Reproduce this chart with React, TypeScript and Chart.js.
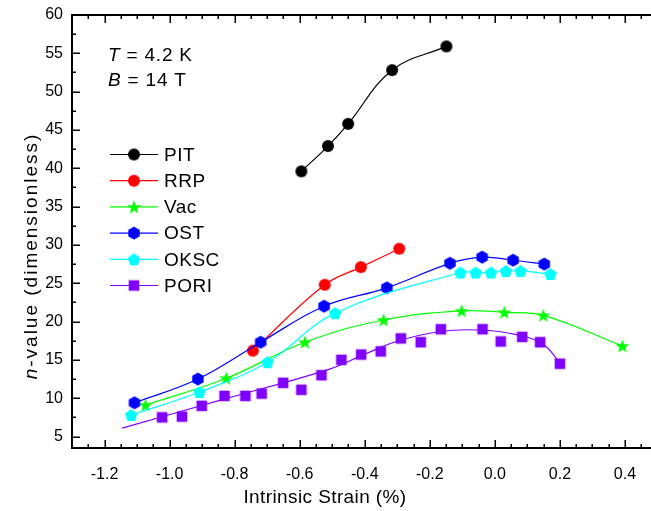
import React, { useEffect, useRef } from 'react';
import { Chart, registerables } from 'chart.js';

Chart.register(...registerables);

// ---- axis ranges and tick labels ----
const xMin = -1.3, xMax = 0.48;
const yMin = 3.5, yMax = 60;
const xTicks = [-1.2, -1.0, -0.8, -0.6, -0.4, -0.2, 0.0, 0.2, 0.4];
const yTicks = [5, 10, 15, 20, 25, 30, 35, 40, 45, 50, 55, 60];

// ---- series (Intrinsic strain %, n-value) ----
const pitX = [-0.595, -0.513, -0.451, -0.316, -0.149];
const pitY = [39.6, 42.9, 45.8, 52.8, 55.9];

const rrpX = [-0.744, -0.523, -0.412, -0.294];
const rrpY = [16.2, 24.8, 27.1, 29.5];

const vacX = [-1.074, -0.826, -0.584, -0.342, -0.102, 0.029, 0.149, 0.392];
const vacY = [9.1, 12.6, 17.3, 20.2, 21.4, 21.2, 20.8, 16.8];

const ostX = [-1.108, -0.913, -0.72, -0.525, -0.332, -0.138, -0.039, 0.056, 0.152];
const ostY = [9.4, 12.5, 17.3, 22.0, 24.4, 27.6, 28.4, 28.0, 27.5];

const okscX = [-1.118, -0.908, -0.699, -0.491, -0.106, -0.059, -0.012, 0.034, 0.079, 0.171];
const okscY = [7.8, 10.8, 14.7, 21.1, 26.4, 26.4, 26.4, 26.6, 26.6, 26.2];

const poriX = [-1.023, -0.962, -0.901, -0.831, -0.767, -0.717, -0.651, -0.595, -0.533, -0.472,
  -0.411, -0.351, -0.289, -0.228, -0.166, -0.038, 0.018, 0.084, 0.139, 0.2];
const poriY = [7.5, 7.6, 9.0, 10.3, 10.3, 10.6, 12.0, 11.1, 13.0, 15.0,
  15.7, 16.1, 17.8, 17.3, 19.0, 19.0, 17.4, 18.0, 17.3, 14.5];

// fitted curve for PORI
const poriFitX = [-1.146, -0.83, -0.508, -0.405, -0.302, -0.169, -0.051, 0.067, 0.149, 0.2];
const poriFitY = [6.1, 9.9, 13.8, 15.65, 17.4, 18.7, 18.9, 18.3, 17.0, 14.6];

const seriesNames = ['PIT', 'RRP', 'Vac', 'OST', 'OKSC', 'PORI'];
const seriesColors = ['#000000', '#ff0000', '#00ff00', '#0000ff', '#00ffff', '#8000ff'];
const seriesShapes = ['circle', 'circle', 'star', 'hexagon', 'pentagon', 'square'];

const FONT = '"Liberation Sans", Arial, Helvetica, sans-serif';

function makeMarker(shape: string, color: string): HTMLCanvasElement {
  const c = document.createElement('canvas');
  c.width = 18;
  c.height = 18;
  const g = c.getContext('2d')!;
  g.fillStyle = color;
  g.translate(9, 9);
  g.beginPath();
  if (shape === 'circle') {
    g.arc(0, 0, 6, 0, Math.PI * 2);
  } else if (shape === 'square') {
    g.rect(-5.3, -5.3, 10.6, 10.6);
  } else if (shape === 'star') {
    const R = 7.4, r = 3.0;
    for (let i = 0; i < 10; i++) {
      const a = -Math.PI / 2 + (i * Math.PI) / 5;
      const rr = i % 2 === 0 ? R : r;
      const px = Math.cos(a) * rr, py = Math.sin(a) * rr + 0.6;
      if (i === 0) g.moveTo(px, py); else g.lineTo(px, py);
    }
    g.closePath();
  } else {
    const n = shape === 'hexagon' ? 6 : 5;
    const R = 6.6;
    for (let i = 0; i < n; i++) {
      const a = -Math.PI / 2 + (i * 2 * Math.PI) / n;
      const px = Math.cos(a) * R, py = Math.sin(a) * R + (n === 5 ? 0.6 : 0);
      if (i === 0) g.moveTo(px, py); else g.lineTo(px, py);
    }
    g.closePath();
  }
  g.fill();
  return c;
}

const pts = (xs: number[], ys: number[]) => xs.map((x, i) => ({ x, y: ys[i] }));

export default function App() {
  const ref = useRef<HTMLCanvasElement>(null);

  useEffect(() => {
    const markers = seriesShapes.map((s, i) => makeMarker(s, seriesColors[i]));
    const xsArr = [pitX, rrpX, vacX, ostX, okscX, poriX];
    const ysArr = [pitY, rrpY, vacY, ostY, okscY, poriY];

    const datasets: any[] = [];
    xsArr.forEach((xs, i) => {
      const isPori = i === 5;
      datasets.push({
        label: seriesNames[i],
        data: pts(xs, ysArr[i]),
        showLine: !isPori,
        borderColor: seriesColors[i],
        backgroundColor: seriesColors[i],
        borderWidth: 1.2,
        tension: 0.4,
        pointStyle: markers[i],
        pointRadius: 6,
        pointHoverRadius: 6,
        order: 20 - i * 2,
      });
    });
    datasets.push({
      label: 'PORI fit',
      data: pts(poriFitX, poriFitY),
      showLine: true,
      borderColor: seriesColors[5],
      borderWidth: 1.2,
      tension: 0.4,
      pointRadius: 0,
      order: 12,
    });

    const majorLen = 8, minorLen = 4;
    const axesPlugin = {
      id: 'axesDecor',
      afterDraw(chart: any) {
        const { ctx, chartArea: a, scales } = chart;
        const xs = scales.x, ys = scales.y;
        ctx.save();
        ctx.strokeStyle = '#000';
        const xStep = (xTicks[1] - xTicks[0]) / 4;
        const xMinor: number[] = [];
        for (let v = xTicks[0] - 8 * xStep; v <= xTicks[xTicks.length - 1] + 8 * xStep + 1e-9; v += xStep) {
          const isMajor = xTicks.some(t => Math.abs(t - v) < 1e-6);
          if (!isMajor && v >= xs.min - 1e-9 && v <= xs.max + 1e-9) xMinor.push(v);
        }
        const yStep = (yTicks[1] - yTicks[0]) / 2;
        const yMinor: number[] = [];
        for (let v = yTicks[0] - yStep; v <= yTicks[yTicks.length - 1]; v += yStep) {
          const isMajor = yTicks.some(t => Math.abs(t - v) < 1e-6);
          if (!isMajor && v >= ys.min && v <= ys.max) yMinor.push(v);
        }
        ctx.lineWidth = 1.5;
        ctx.beginPath();
        xTicks.forEach(v => {
          const p = Math.round(xs.getPixelForValue(v)) + 0.25;
          ctx.moveTo(p, a.bottom); ctx.lineTo(p, a.bottom - majorLen);
          ctx.moveTo(p, a.top); ctx.lineTo(p, a.top + majorLen);
        });
        xMinor.forEach(v => {
          const p = Math.round(xs.getPixelForValue(v)) + 0.25;
          ctx.moveTo(p, a.bottom); ctx.lineTo(p, a.bottom - minorLen);
          ctx.moveTo(p, a.top); ctx.lineTo(p, a.top + minorLen);
        });
        yTicks.forEach(v => {
          const p = Math.round(ys.getPixelForValue(v)) + 0.25;
          ctx.moveTo(a.left, p); ctx.lineTo(a.left + majorLen, p);
        });
        yMinor.forEach(v => {
          const p = Math.round(ys.getPixelForValue(v)) + 0.25;
          ctx.moveTo(a.left, p); ctx.lineTo(a.left + minorLen, p);
        });
        ctx.stroke();
        ctx.lineWidth = 2;
        ctx.beginPath();
        ctx.moveTo(a.left, a.bottom); ctx.lineTo(a.right, a.bottom);
        ctx.moveTo(a.left, a.top); ctx.lineTo(a.right, a.top);
        ctx.moveTo(a.left, a.top - 1); ctx.lineTo(a.left, a.bottom + 1);
        ctx.stroke();

        // axis titles
        ctx.fillStyle = '#000';
        ctx.textBaseline = 'middle';
        ctx.font = `19px ${FONT}`;
        ctx.textAlign = 'center';
        (ctx as any).letterSpacing = '0.4px';
        ctx.fillText('Intrinsic Strain (%)', 325, 498);

        ctx.save();
        ctx.translate(32, 256);
        ctx.rotate(-Math.PI / 2);
        (ctx as any).letterSpacing = '2px';
        ctx.font = `italic 19px ${FONT}`;
        const nW = ctx.measureText('n').width;
        ctx.font = `19px ${FONT}`;
        const restTxt = '-value (dimensionless)';
        const rW = ctx.measureText(restTxt).width;
        const start = -(nW + rW) / 2;
        ctx.textAlign = 'left';
        ctx.font = `italic 19px ${FONT}`;
        ctx.fillText('n', start, 0);
        ctx.font = `19px ${FONT}`;
        ctx.fillText(restTxt, start + nW, 0);
        ctx.restore();

        // annotation
        (ctx as any).letterSpacing = '0.8px';
        ctx.textAlign = 'left';
        ctx.textBaseline = 'alphabetic';
        const drawAnn = (sym: string, rest: string, x: number, y: number) => {
          ctx.font = `italic 19px ${FONT}`;
          ctx.fillText(sym, x, y);
          const w = ctx.measureText(sym).width;
          ctx.font = `19px ${FONT}`;
          ctx.fillText(rest, x + w, y);
        };
        drawAnn('T', ' = 4.2 K', 108, 61);
        drawAnn('B', ' = 14 T', 108, 86);

        // legend
        (ctx as any).letterSpacing = '0.5px';
        ctx.textBaseline = 'middle';
        ctx.font = `19px ${FONT}`;
        seriesNames.forEach((name, i) => {
          const y = 154.5 + i * 26.2;
          ctx.strokeStyle = seriesColors[i];
          ctx.lineWidth = 1.2;
          ctx.beginPath();
          ctx.moveTo(110, y); ctx.lineTo(158, y);
          ctx.stroke();
          const m = markers[i];
          ctx.drawImage(m, 134 - m.width / 2, y - m.height / 2);
          ctx.fillStyle = '#000';
          ctx.fillText(name, 164, y + 1);
        });
        ctx.restore();
      },
    };

    const chart = new Chart(ref.current!, {
      type: 'scatter',
      data: { datasets },
      options: {
        animation: false,
        responsive: false,
        events: [],
        layout: { autoPadding: false, padding: { top: 15, right: 0, left: 0, bottom: 0 } },
        plugins: { legend: { display: false }, tooltip: { enabled: false } },
        scales: {
          x: {
            type: 'linear',
            min: xMin,
            max: xMax,
            afterBuildTicks: (s: any) => {
              s.min = xMin; s.max = xMax;
              s.ticks = xTicks.map(v => ({ value: v }));
            },
            afterFit: (s: any) => { s.height = 63; s.paddingLeft = 0; s.paddingRight = 0; },
            grid: { display: false, drawTicks: false },
            border: { display: false },
            ticks: {
              padding: 17,
              color: '#000',
              font: { family: FONT, size: 16 },
              maxRotation: 0,
              autoSkip: false,
              callback: (v: any) => (Math.abs(Number(v)) < 1e-9 ? '0.0' : Number(v).toFixed(1)),
            },
          },
          y: {
            type: 'linear',
            min: yMin,
            max: yMax,
            afterBuildTicks: (s: any) => {
              s.min = yMin; s.max = yMax;
              s.ticks = yTicks.map(v => ({ value: v }));
            },
            afterFit: (s: any) => { s.width = 72; s.paddingTop = 0; s.paddingBottom = 0; },
            grid: { display: false, drawTicks: false },
            border: { display: false },
            ticks: {
              padding: 9,
              color: '#000',
              font: { family: FONT, size: 16 },
              autoSkip: false,
              callback: (v: any) => String(v),
            },
          },
        },
      },
      plugins: [axesPlugin],
    } as any);
    return () => chart.destroy();
  }, []);

  return (
    <div style={{ position: 'absolute', left: 0, top: 0, width: 651, height: 511, background: '#fff' }}>
      <canvas ref={ref} width={651} height={511} style={{ display: 'block' }} />
    </div>
  );
}
